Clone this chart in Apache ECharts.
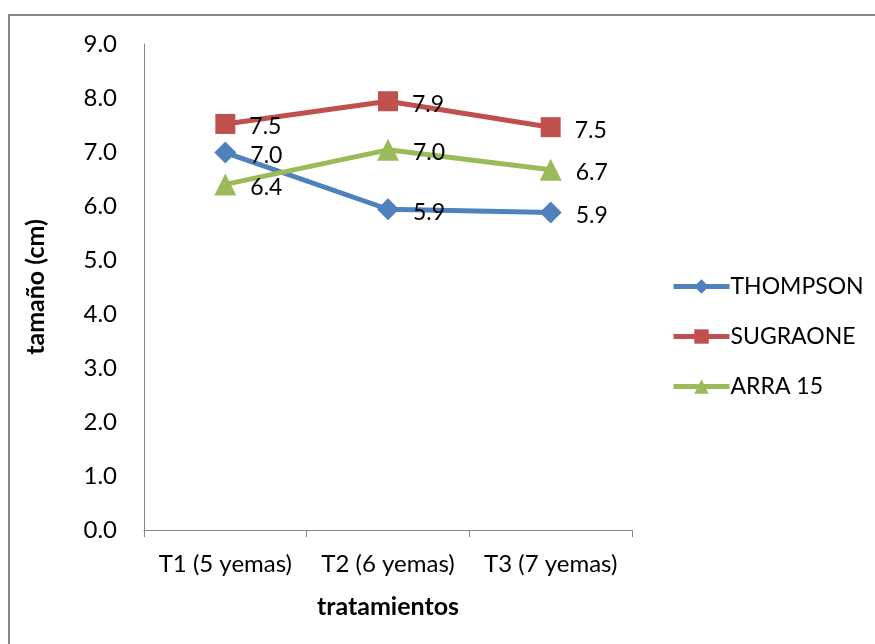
<!DOCTYPE html>
<html>
<head>
<meta charset="utf-8">
<script src="https://cdn.jsdelivr.net/npm/echarts@6/dist/echarts.min.js"></script>
<style>
  html, body { margin: 0; padding: 0; background: #ffffff; }
  #chart { width: 875px; height: 644px; }
</style>
</head>
<body>
<div id="chart"></div>
<script>
// Tamaño de racimo por tratamiento (número de yemas) y variedad
const categories = ['T1 (5 yemas)', 'T2 (6 yemas)', 'T3 (7 yemas)'];
const thompson = [6.99, 5.94, 5.88];
const sugraone = [7.52, 7.94, 7.46];
const arra15 = [6.40, 7.04, 6.67];

const FONT = 'Lato, "Open Sans", sans-serif';

function lineSeries(name, data, color, symbol, size) {
  return {
    name: name,
    type: 'line',
    data: data,
    symbol: symbol,
    symbolSize: size,
    lineStyle: { width: 5, color: color },
    itemStyle: { color: color },
    label: {
      show: true,
      position: 'right',
      distance: 14,
      offset: [0, 3],
      color: '#000',
      fontSize: 23,
      fontFamily: FONT,
      formatter: p => p.value.toFixed(1)
    },
    z: 3
  };
}

const chart = echarts.init(document.getElementById('chart'));
chart.setOption({
  backgroundColor: '#ffffff',
  animation: false,
  graphic: [{
    type: 'rect',
    shape: { x: 9, y: 15, width: 880, height: 640 },
    style: { fill: 'none', stroke: '#868686', lineWidth: 2 },
    silent: true
  }],
  grid: { left: 144, top: 44, right: 243, bottom: 114 },
  legend: {
    orient: 'vertical',
    left: 666,
    top: 270,
    itemWidth: 56,
    itemHeight: 18,
    itemGap: 27,
    lineStyle: { width: 5 },
    textStyle: { fontSize: 23, fontFamily: FONT, color: '#000', padding: [0, 0, 0, -4] },
    data: ['THOMPSON', 'SUGRAONE', 'ARRA 15']
  },
  xAxis: {
    type: 'category',
    data: categories,
    boundaryGap: true,
    name: 'tratamientos',
    nameLocation: 'middle',
    nameGap: 64,
    nameTextStyle: { fontSize: 25, fontWeight: 'bold', fontFamily: FONT, color: '#000' },
    axisLine: { lineStyle: { color: '#868686', width: 1 } },
    axisTick: { show: true, interval: 0, length: 7, alignWithLabel: false, lineStyle: { color: '#868686' } },
    axisLabel: { interval: 0, hideOverlap: false, fontSize: 24, fontFamily: FONT, color: '#000', margin: 22 },
    splitLine: { show: false }
  },
  yAxis: {
    type: 'value',
    min: 0,
    max: 9,
    interval: 1,
    name: 'tamaño (cm)',
    nameLocation: 'middle',
    nameGap: 96,
    nameTextStyle: { fontSize: 25, fontWeight: 'bold', fontFamily: FONT, color: '#000' },
    axisLine: { show: true, lineStyle: { color: '#868686', width: 1 } },
    axisTick: { show: false },
    axisLabel: { fontSize: 24, fontFamily: FONT, color: '#000', margin: 27, formatter: v => v.toFixed(1) },
    splitLine: { show: false }
  },
  series: [
    lineSeries('THOMPSON', thompson, '#4F81BD', 'diamond', 22),
    lineSeries('SUGRAONE', sugraone, '#C0504D', 'rect', 20),
    lineSeries('ARRA 15', arra15, '#9BBB59', 'triangle', 22)
  ]
});
</script>
</body>
</html>
